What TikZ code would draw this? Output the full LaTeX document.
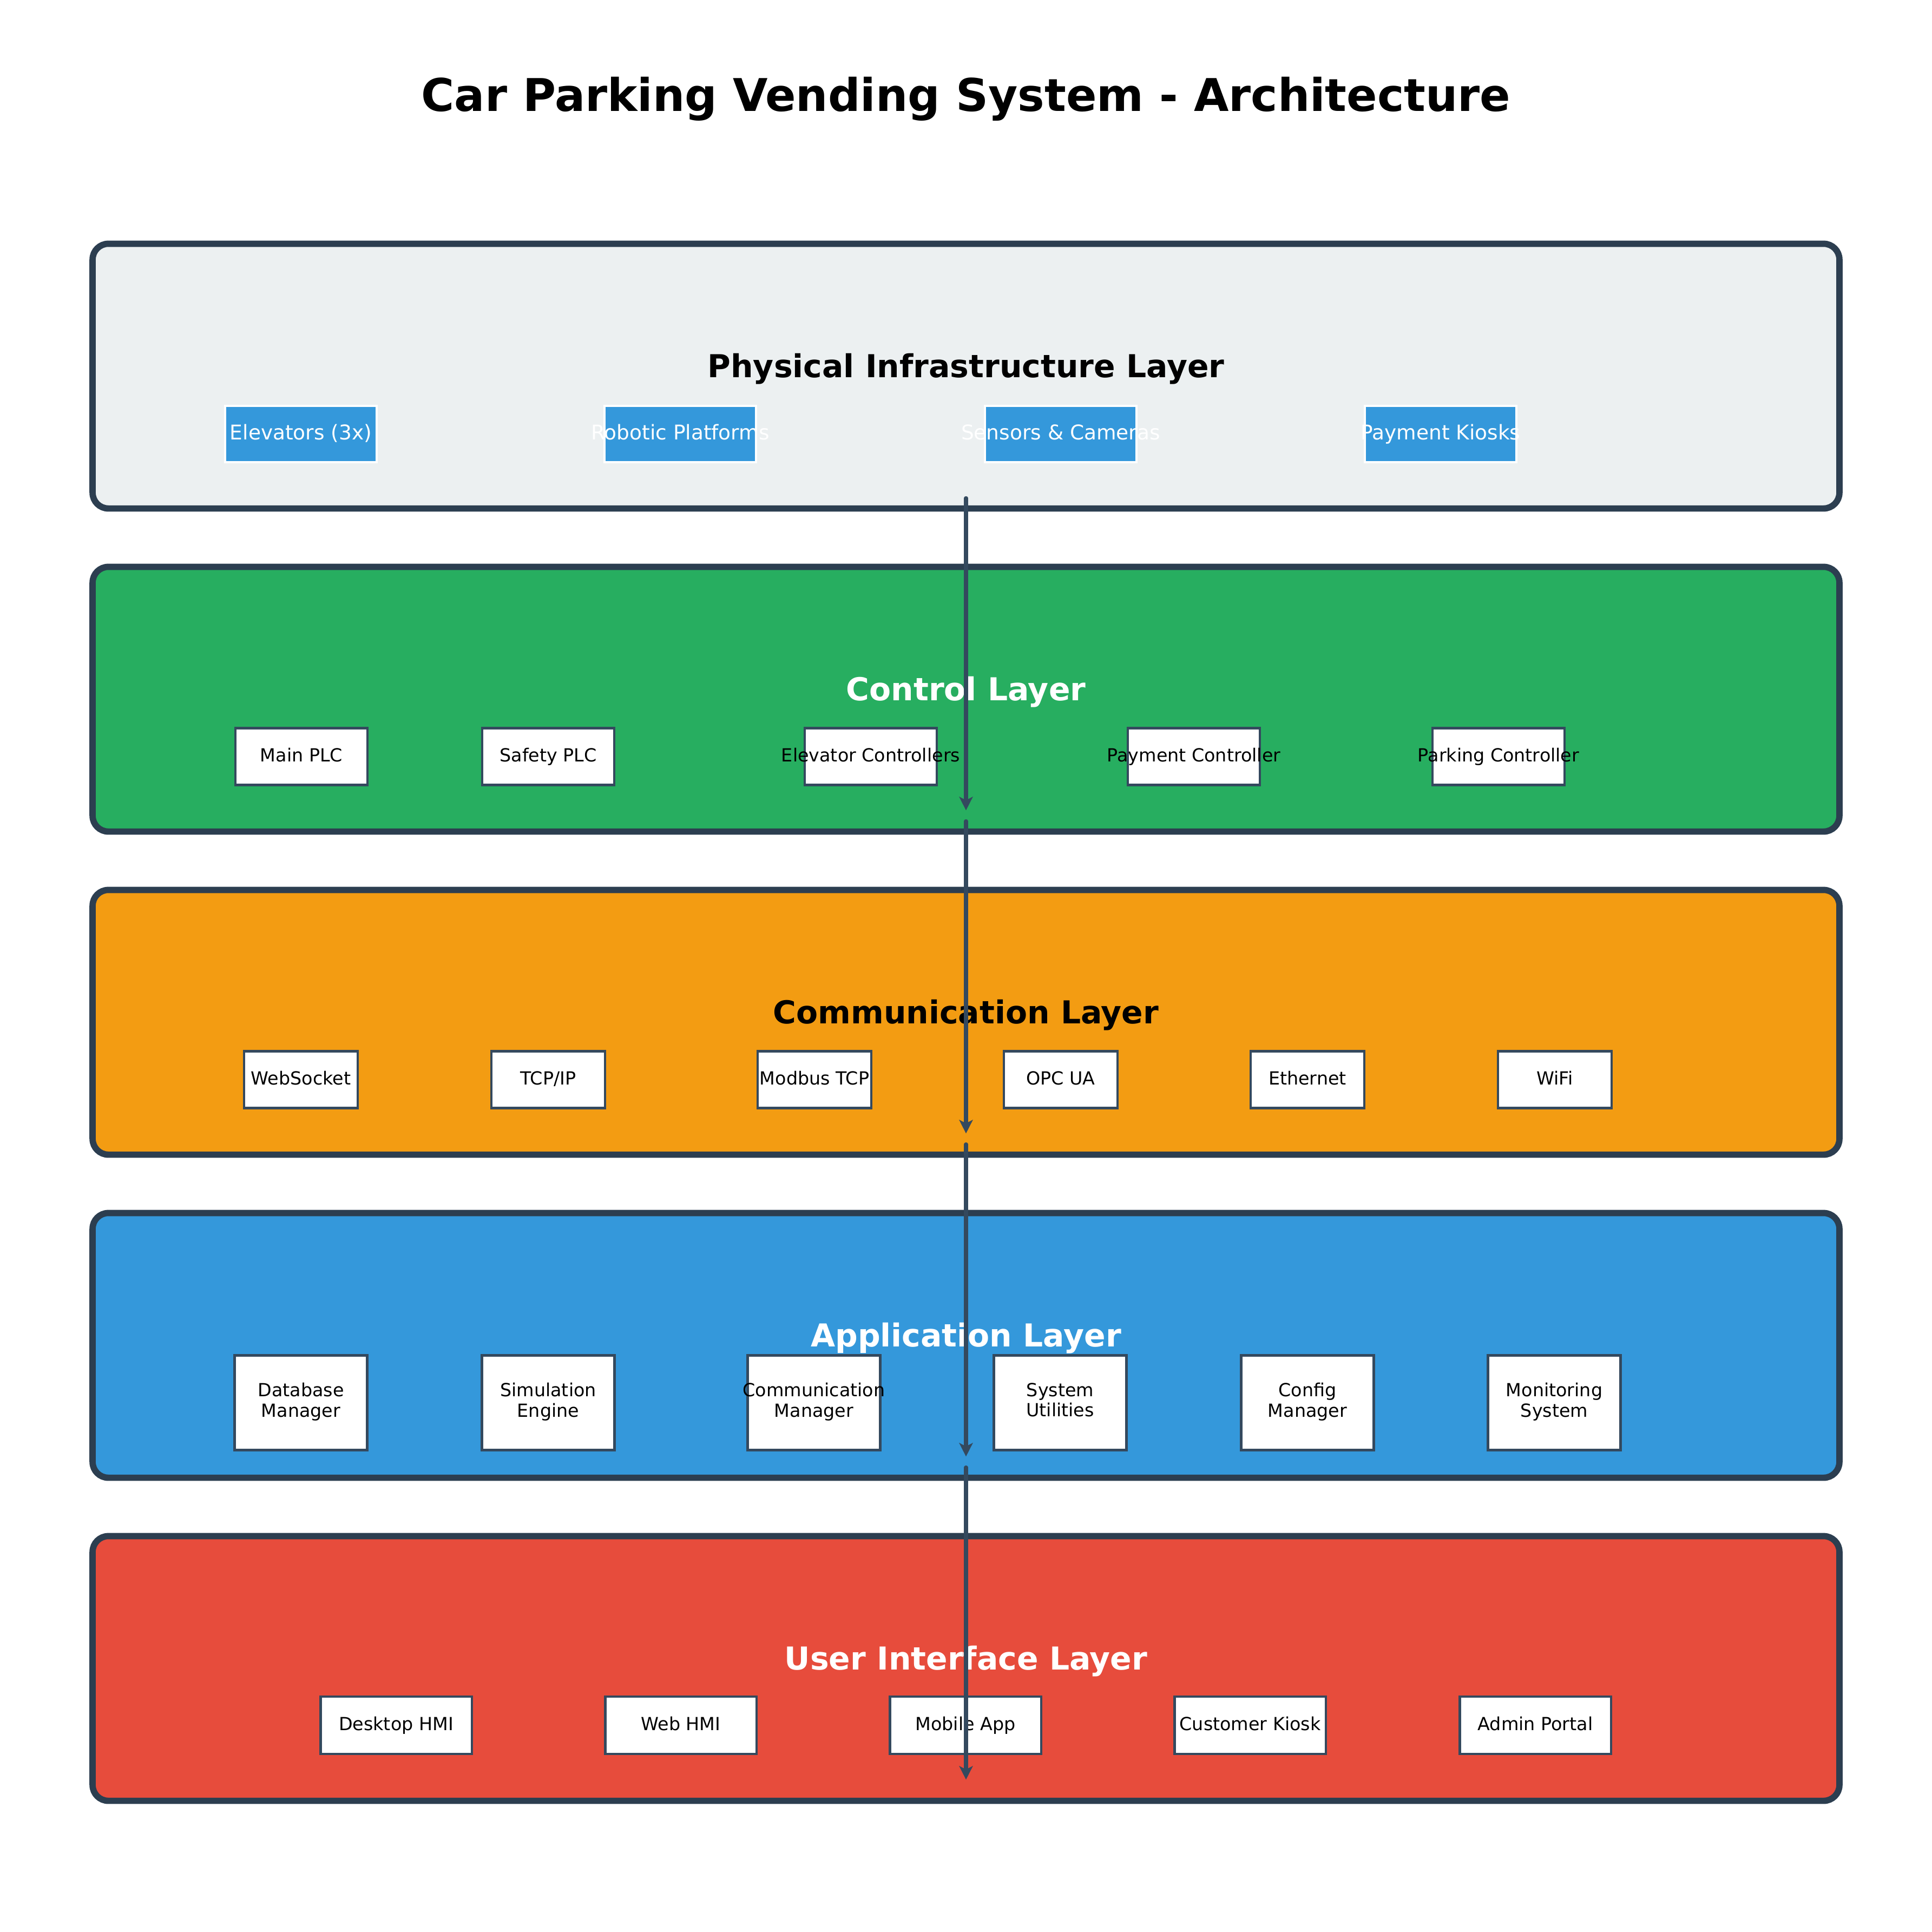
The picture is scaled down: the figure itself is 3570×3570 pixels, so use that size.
\documentclass[tikz,border=0pt]{standalone}
\usepackage{fontspec}
\setmainfont{DejaVu Sans}
\usetikzlibrary{arrows.meta}

\definecolor{edge}{HTML}{2C3E50}
\definecolor{compedge}{HTML}{34495E}
\definecolor{physfill}{HTML}{ECF0F1}
\definecolor{ctrlfill}{HTML}{27AE60}
\definecolor{commfill}{HTML}{F39C12}
\definecolor{appfill}{HTML}{3498DB}
\definecolor{uifill}{HTML}{E74C3C}

% text may run past the box edges, as in the original; fixed strut keeps baselines level
\newcommand{\overtext}[2][0.2em]{\makebox[0pt]{\rule[-#1]{0pt}{0.85em}#2}}

\tikzset{
    layerbox/.style={draw=edge, line width=2.8pt, rounded corners=7pt, inner sep=0pt,
        minimum width=774.7pt, minimum height=117.4pt},
    layertitle/.style={font=\fontsize{14}{17}\selectfont\bfseries},
    hwbox/.style={fill=appfill, draw=white, line width=1pt, inner sep=0pt, text=white,
        minimum width=67.2pt, minimum height=25pt, font=\fontsize{9}{11}\selectfont},
    compbox/.style={fill=white, draw=compedge, line width=1pt, inner sep=0pt,
        align=center, font=\fontsize{8}{8.95}\selectfont},
    flow/.style={draw=compedge, line width=1.7pt, line cap=round,
        -{Stealth[length=6pt,width=6pt,inset=1.5pt]}}
}

\begin{document}
\begin{tikzpicture}[x=0.24pt, y=-0.24pt]
            \useasboundingbox[fill=white] (0,0) rectangle (3570,3570);

            \node[font=\fontsize{20}{24}\selectfont\bfseries] (title) at (1785,183)
                {Car Parking Vending System - Architecture};

            % layers
            \foreach \n/\y/\c/\tc/\t in {phys/695/physfill/black/Physical Infrastructure Layer,
                ctrl/1292/ctrlfill/white/Control Layer, comm/1889/commfill/black/Communication Layer,
                app/2486/appfill/white/Application Layer, ui/3083/uifill/white/User Interface Layer}
            {
                \node[layerbox, fill=\c] (\n) at (1785,\y) {};
                \node[layertitle, text=\tc] (\n-title) at (1785,\y-13) {\t};
            }

            % physical infrastructure
            \foreach \x/\t [count=\i] in {556/Elevators (3x), 1257/Robotic Platforms,
                1960/Sensors \& Cameras, 2662/Payment Kiosks}
            {
                \node[hwbox] (phys-\i) at (\x,802) {\overtext{\t}};
            }

            % control
            \foreach \x/\t [count=\i] in {557/Main PLC, 1013/Safety PLC, 1609/Elevator Controllers,
                2206/Payment Controller, 2769/Parking Controller}
            {
                \node[compbox, minimum width=58.6pt, minimum height=25.2pt] (ctrl-\i) at (\x,1398) {\overtext{\t}};
            }

            % communication
            \foreach \x/\t [count=\i] in {556/WebSocket, 1013/{TCP/IP}, 1505/Modbus TCP,
                1960/OPC UA, 2416/Ethernet, 2873/WiFi}
            {
                \node[compbox, minimum width=50.4pt, minimum height=25.2pt] (comm-\i) at (\x,1995) {\overtext{\t}};
            }

            % application
            \foreach \x/\a/\b [count=\i] in {556/Database/Manager, 1013/Simulation/Engine,
                1504/Communication/Manager, 1959/System/Utilities, 2416/Config/Manager,
                2872/Monitoring/System}
            {
                \node[compbox, minimum width=58.8pt, minimum height=42pt] (app-\i) at (\x,2592)
                    {\overtext{\a}\\\overtext[0.32em]{\b}};
            }

            % user interface
            \foreach \x/\t [count=\i] in {732/Desktop HMI, 1258/Web HMI, 1784/Mobile App,
                2310/Customer Kiosk, 2837/Admin Portal}
            {
                \node[compbox, minimum width=67pt, minimum height=25.4pt] (ui-\i) at (\x,3188) {\overtext{\t}};
            }

            % data flow between layers
            \foreach \a/\b in {phys/ctrl, ctrl/comm, comm/app, app/ui}
            {
                \draw[flow] ([yshift=6pt]\a.south) -- ([yshift=10.8pt]\b.south);
            }
\end{tikzpicture}
\end{document}
